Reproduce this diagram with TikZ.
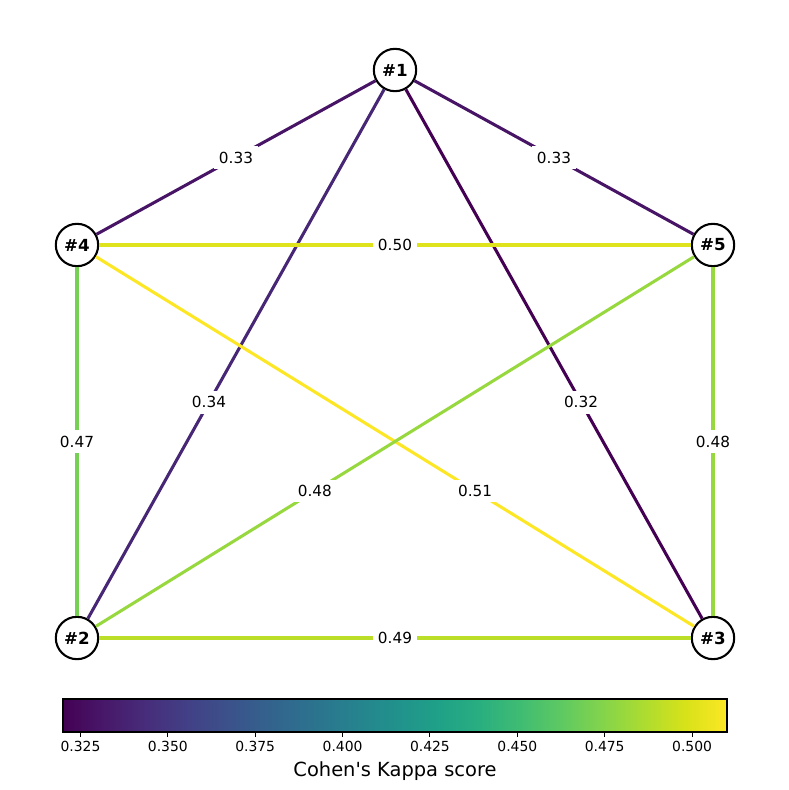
\documentclass[tikz,border=0pt]{standalone}
\usepackage{fontspec}
\setmainfont{DejaVu Sans}
\definecolor{v0}{RGB}{68,1,84}
\definecolor{v1}{RGB}{72,24,106}
\definecolor{v2}{RGB}{71,45,123}
\definecolor{v3}{RGB}{66,64,134}
\definecolor{v4}{RGB}{59,82,139}
\definecolor{v5}{RGB}{51,99,141}
\definecolor{v6}{RGB}{44,114,142}
\definecolor{v7}{RGB}{38,130,142}
\definecolor{v8}{RGB}{33,145,140}
\definecolor{v9}{RGB}{31,160,136}
\definecolor{v10}{RGB}{40,174,128}
\definecolor{v11}{RGB}{63,188,115}
\definecolor{v12}{RGB}{94,201,98}
\definecolor{v13}{RGB}{132,212,75}
\definecolor{v14}{RGB}{173,220,48}
\definecolor{v15}{RGB}{216,226,25}
\definecolor{v16}{RGB}{253,231,37}
\definecolor{c032}{RGB}{68,1,84}
\definecolor{c033}{RGB}{71,20,102}
\definecolor{c034}{RGB}{71,38,118}
\definecolor{c047}{RGB}{118,208,84}
\definecolor{c048}{RGB}{151,216,62}
\definecolor{c049}{RGB}{187,222,41}
\definecolor{c050}{RGB}{222,227,27}
\definecolor{c051}{RGB}{253,231,37}
\pgfdeclarehorizontalshading{viridis}{100bp}{color(0bp)=(v0); color(25bp)=(v0);
 color(28.125bp)=(v1); color(31.25bp)=(v2); color(34.375bp)=(v3); color(37.5bp)=(v4);
 color(40.625bp)=(v5); color(43.75bp)=(v6); color(46.875bp)=(v7); color(50bp)=(v8);
 color(53.125bp)=(v9); color(56.25bp)=(v10); color(59.375bp)=(v11); color(62.5bp)=(v12);
 color(65.625bp)=(v13); color(68.75bp)=(v14); color(71.875bp)=(v15); color(75bp)=(v16);
 color(100bp)=(v16)}
\begin{document}
\begin{tikzpicture}[x=0.72pt,y=-0.72pt,
  vnode/.style={circle, draw=black, line width=1.5pt, fill=white, minimum size=30.5pt,
    inner sep=0pt, font=\fontsize{12}{14}\selectfont\bfseries},
  edge/.style={line width=2.2pt},
  elabel/.style={fill=white, inner xsep=3.5pt, inner ysep=4pt, font=\fontsize{11}{13}\selectfont},
  ticklabel/.style={anchor=base, inner sep=0pt, font=\fontsize{10}{12}\selectfont},
  cbtick/.style={line width=0.8pt}]
\useasboundingbox (0,0) rectangle (789,790);
% nodes
\node[vnode] (n1) at (395,70) {\#1};
\node[vnode] (n4) at (77,245) {\#4};
\node[vnode] (n5) at (713,245) {\#5};
\node[vnode] (n2) at (77,638) {\#2};
\node[vnode] (n3) at (713,638) {\#3};
% edges
\draw[edge, c033] (n1) -- (n4);
\draw[edge, c033] (n1) -- (n5);
\draw[edge, c034] (n1) -- (n2);
\draw[edge, c032] (n1) -- (n3);
\draw[edge, c050] (n4) -- (n5);
\draw[edge, c047] (n4) -- (n2);
\draw[edge, c051] (n4) -- (n3);
\draw[edge, c048] (n5) -- (n2);
\draw[edge, c048] (n5) -- (n3);
\draw[edge, c049] (n2) -- (n3);
% edge labels
\path (n1.center) -- (n4.center) node[elabel, pos=0.5] (l14) {0.33};
\path (n1.center) -- (n5.center) node[elabel, pos=0.5] (l15) {0.33};
\path (n1.center) -- (n2.center) node[elabel, pos=0.585] (l12) {0.34};
\path (n1.center) -- (n3.center) node[elabel, pos=0.585] (l13) {0.32};
\path (n4.center) -- (n5.center) node[elabel, pos=0.5] (l45) {0.50};
\path (n4.center) -- (n2.center) node[elabel, pos=0.5] (l42) {0.47};
\path (n4.center) -- (n3.center) node[elabel, pos=0.626] (l43) {0.51};
\path (n5.center) -- (n2.center) node[elabel, pos=0.626] (l52) {0.48};
\path (n5.center) -- (n3.center) node[elabel, pos=0.5] (l53) {0.48};
\path (n2.center) -- (n3.center) node[elabel, pos=0.5] (l23) {0.49};
% colorbar
\shade[shading=viridis] (63,699) rectangle (727,732);
\draw[line width=0.8pt] (63,699) rectangle (727,732);
\foreach \x/\t [count=\i] in {80.5/0.325, 167.8/0.350, 255.2/0.375, 342.6/0.400,
    429.9/0.425, 517.3/0.450, 604.7/0.475, 692.1/0.500} {
  \draw[cbtick] (\x,732) -- (\x,737);
  \node[ticklabel] (tick\i) at (\x,751.5) {\t};
}
\node[anchor=base, inner sep=0pt, font=\fontsize{14}{17}\selectfont] (cblabel) at (395,776)
  {Cohen\textquotesingle s Kappa score};
\end{tikzpicture}
\end{document}
